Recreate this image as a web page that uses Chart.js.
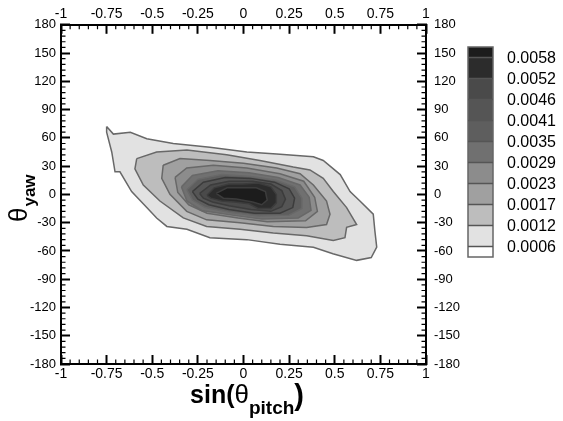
<!DOCTYPE html>
<html>
<head>
<meta charset="utf-8">
<script src="https://cdn.jsdelivr.net/npm/chart.js@4.4.1/dist/chart.umd.min.js"></script>
<style>
    body { margin: 0; background: #fff; }
</style>
</head>
<body>
<canvas id="contourChart" width="563" height="421"></canvas>
<script>
// Kontur seviyeleri (legend, alttan üste)
const levels = ['0.0006', '0.0012', '0.0017', '0.0023', '0.0029', '0.0035', '0.0041', '0.0046', '0.0052', '0.0058'];
// Bant renkleri: en alt seviyenin altı ... en üst seviyenin üstü
const bandColors = ['#ffffff', '#e2e2e2', '#bdbdbd', '#a0a0a0', '#8c8c8c', '#707070', '#5e5e5e', '#555555', '#4a4a4a', '#2c2c2c', '#1c1c1c'];

// Eksen değerleri
const xTicks = [-1, -0.75, -0.5, -0.25, 0, 0.25, 0.5, 0.75, 1];
const yTicks = [-180, -150, -120, -90, -60, -30, 0, 30, 60, 90, 120, 150, 180];
const xMinorStep = 0.05;
const yMinorStep = 6;

// Kontur çizgileri [sin(pitch), yaw]
const ring0006 = [[-0.75, 72], [-0.713, 64], [-0.62, 66], [-0.53, 59], [-0.385, 54], [-0.184, 50], [0.018, 45], [0.182, 43], [0.383, 40], [0.437, 36], [0.53, 21], [0.584, 3], [0.638, -7], [0.711, -21], [0.72, -39], [0.73, -56], [0.70, -67], [0.62, -70], [0.49, -63], [0.383, -56], [0.2, -53], [0.018, -48], [-0.184, -46], [-0.31, -37], [-0.42, -34], [-0.476, -25], [-0.53, -14], [-0.613, 3], [-0.677, 24], [-0.704, 24], [-0.722, 45], [-0.75, 66]];
const ring0012 = [[-0.585, 38], [-0.476, 45], [-0.31, 47], [-0.092, 42], [0.09, 36], [0.273, 29], [0.364, 26], [0.437, 17], [0.492, 3], [0.565, -14], [0.62, -32], [0.565, -35], [0.556, -46], [0.492, -49], [0.346, -44], [0.163, -41], [-0.019, -37], [-0.202, -34], [-0.33, -25], [-0.458, -7], [-0.549, 10], [-0.595, 27]];
const ring0017 = [[-0.44, 31], [-0.348, 38], [-0.184, 36], [0.0, 33], [0.182, 28], [0.31, 22], [0.383, 10], [0.455, -7], [0.474, -21], [0.455, -32], [0.346, -35], [0.163, -34], [-0.019, -30], [-0.202, -27], [-0.311, -18], [-0.403, 0], [-0.448, 17]];
const ring0023 = [[-0.375, 18], [-0.311, 28], [-0.165, 31], [0.018, 28], [0.2, 22], [0.33, 14], [0.39, -3], [0.405, -18], [0.34, -28], [0.13, -29], [-0.03, -25], [-0.2, -20], [-0.3, -11], [-0.36, 2]];
const ring0029 = [[-0.34, 8], [-0.28, 20], [-0.14, 25], [0.03, 23], [0.19, 18], [0.31, 10], [0.36, -3], [0.37, -17], [0.3, -25], [0.1, -26], [-0.06, -22], [-0.23, -17], [-0.31, -7]];
const ring0035 = [[-0.31, 5], [-0.25, 16], [-0.12, 21], [0.04, 19], [0.18, 15], [0.28, 8], [0.32, -4], [0.32, -15], [0.25, -22], [0.08, -23], [-0.08, -19], [-0.21, -14], [-0.28, -6]];
const ring0041 = [[-0.28, 3], [-0.22, 13], [-0.1, 18], [0.04, 17], [0.17, 13], [0.25, 6], [0.28, -4], [0.27, -14], [0.2, -20], [0.06, -20], [-0.08, -16], [-0.19, -11], [-0.25, -5]];
const ring0046 = [[-0.24, 1], [-0.18, 10], [-0.08, 14], [0.05, 14], [0.15, 11], [0.21, 4], [0.23, -5], [0.21, -13], [0.15, -18], [0.04, -16], [-0.08, -12], [-0.17, -8], [-0.22, -4]];
const ring0052 = [[-0.2, -1], [-0.16, 7], [-0.08, 11], [0.0, 11], [0.08, 12], [0.15, 8], [0.18, 0], [0.18, -9], [0.15, -15], [0.08, -15], [0.03, -10], [-0.05, -8], [-0.12, -7], [-0.18, -4]];
const ring0058 = [[-0.15, 1], [-0.09, 7], [0.0, 7], [0.07, 7], [0.12, 3], [0.13, -6], [0.1, -11], [0.05, -8], [-0.04, -5], [-0.11, -4]];

const rings = [ring0006, ring0012, ring0017, ring0023, ring0029, ring0035, ring0041, ring0046, ring0052, ring0058];

const FONT = '"Liberation Sans", Arial, Helvetica, sans-serif';

function buildDatasets() {
    return rings.map((ring, i) => {
        const pts = ring.map(p => ({ x: p[0], y: p[1] }));
        pts.push({ x: ring[0][0], y: ring[0][1] });
        return {
            data: pts,
            showLine: true,
            fill: 'shape',
            backgroundColor: bandColors[i + 1],
            borderColor: i >= 6 ? '#3c3c3c' : '#686868',
            borderWidth: 1.5,
            pointRadius: 0,
            tension: 0,
            order: rings.length - i
        };
    });
}

// Ara (minor) tikler, içe doğru
const minorTicks = {
    id: 'minorTicks',
    afterDraw(chart) {
        const ctx = chart.ctx;
        const area = chart.chartArea;
        const xs = chart.scales.x;
        const ys = chart.scales.y;
        ctx.save();
        ctx.strokeStyle = '#000000';
        ctx.lineWidth = 1.2;
        ctx.beginPath();
        for (let i = 0; i <= 40; i++) {
            if (i % 5 === 0) continue;
            const px = xs.getPixelForValue(-1 + i * xMinorStep);
            ctx.moveTo(px, area.bottom);
            ctx.lineTo(px, area.bottom - 4.5);
            ctx.moveTo(px, area.top);
            ctx.lineTo(px, area.top + 4.5);
        }
        for (let i = 0; i <= 60; i++) {
            if (i % 5 === 0) continue;
            const py = ys.getPixelForValue(-180 + i * yMinorStep);
            ctx.moveTo(area.left, py);
            ctx.lineTo(area.left + 4.5, py);
            ctx.moveTo(area.right, py);
            ctx.lineTo(area.right - 4.5, py);
        }
        ctx.stroke();
        ctx.restore();
    }
};

// Eksen başlıkları (alt indisli)
const axisTitles = {
    id: 'axisTitles',
    afterDraw(chart) {
        const ctx = chart.ctx;
        ctx.save();
        ctx.fillStyle = '#000';
        ctx.textBaseline = 'alphabetic';
        ctx.textAlign = 'left';
        const parts = [
            { t: 'sin(', f: 'bold 25px ' + FONT, dy: 0 },
            { t: 'θ', f: '26px ' + FONT, dy: 0 },
            { t: 'pitch', f: 'bold 19px ' + FONT, dy: 11 },
            { t: ')', f: 'bold 29px ' + FONT, dy: 2 }
        ];
        let total = 0;
        parts.forEach(p => { ctx.font = p.f; p.w = ctx.measureText(p.t).width; total += p.w; });
        let x = 247 - total / 2;
        parts.forEach(p => { ctx.font = p.f; ctx.fillText(p.t, x, 403 + p.dy); x += p.w; });

        ctx.translate(27, 222);
        ctx.rotate(-Math.PI / 2);
        ctx.font = '26px ' + FONT;
        ctx.fillText('θ', 0, 0);
        const tw = ctx.measureText('θ').width;
        ctx.font = 'bold 17px ' + FONT;
        ctx.fillText('yaw', tw + 1, 8);
        ctx.restore();
    }
};

// Renk skalası (etiketler bant sınırlarında)
const colorBar = {
    id: 'colorBar',
    afterDraw(chart) {
        const ctx = chart.ctx;
        const bx = 468, bw = 25, barTop = 47, barBottom = 257;
        const step = (barBottom - barTop) / levels.length;
        ctx.save();
        for (let b = 0; b < bandColors.length; b++) {
            let y1 = barBottom - step / 2 - (b - 1) * step;
            let y0 = y1 - step;
            if (b === 0) { y1 = barBottom; y0 = barBottom - step / 2; }
            if (b === bandColors.length - 1) { y0 = barTop; }
            ctx.fillStyle = bandColors[b];
            ctx.fillRect(bx, y0, bw, y1 - y0);
        }
        ctx.strokeStyle = '#666';
        ctx.lineWidth = 1.5;
        ctx.strokeRect(bx, barTop, bw, barBottom - barTop);
        ctx.font = '16px ' + FONT;
        ctx.textAlign = 'left';
        ctx.textBaseline = 'middle';
        for (let k = 0; k < levels.length; k++) {
            const y = barBottom - step / 2 - k * step;
            ctx.strokeStyle = '#555';
            ctx.beginPath();
            ctx.moveTo(bx, y);
            ctx.lineTo(bx + bw, y);
            ctx.stroke();
            ctx.fillStyle = '#000';
            ctx.fillText(levels[k], 507, y + 1);
        }
        ctx.restore();
    }
};

function fmt(v) {
    return String(Math.round(v * 100) / 100);
}

const xTickFont = { family: FONT, size: 14 };
const yTickFont = { family: FONT, size: 13 };
// Ana tikler: negatif tickLength ile içe doğru
const majorGrid = { display: true, drawOnChartArea: false, drawTicks: true, tickLength: -9, tickWidth: 2, tickColor: '#000' };
const axisBorder = { display: true, color: '#000', width: 2 };

new Chart(document.getElementById('contourChart'), {
    type: 'scatter',
    data: { datasets: buildDatasets() },
    options: {
        responsive: false,
        animation: false,
        layout: { padding: 0 },
        plugins: { legend: { display: false }, tooltip: { enabled: false } },
        scales: {
            x: {
                type: 'linear', position: 'bottom', min: -1, max: 1,
                afterBuildTicks: s => { s.ticks = xTicks.map(v => ({ value: v })); },
                afterFit: s => { s.height = 57; },
                ticks: { font: xTickFont, color: '#000', padding: 11, maxRotation: 0, autoSkip: false, callback: fmt },
                grid: majorGrid, border: axisBorder
            },
            x2: {
                type: 'linear', axis: 'x', position: 'top', min: -1, max: 1,
                afterBuildTicks: s => { s.ticks = xTicks.map(v => ({ value: v })); },
                afterFit: s => { s.height = 22; },
                ticks: { font: xTickFont, color: '#000', padding: 11, maxRotation: 0, autoSkip: false, callback: fmt },
                grid: majorGrid, border: axisBorder
            },
            y: {
                type: 'linear', position: 'left', min: -180, max: 180,
                afterBuildTicks: s => { s.ticks = yTicks.map(v => ({ value: v })); },
                afterFit: s => { s.width = 61; },
                ticks: { font: yTickFont, color: '#000', padding: 14, autoSkip: false },
                grid: majorGrid, border: axisBorder
            },
            y2: {
                type: 'linear', axis: 'y', position: 'right', min: -180, max: 180,
                afterBuildTicks: s => { s.ticks = yTicks.map(v => ({ value: v })); },
                afterFit: s => { s.width = 137; },
                ticks: { font: yTickFont, color: '#000', padding: 17, autoSkip: false },
                grid: majorGrid, border: axisBorder
            }
        }
    },
    plugins: [minorTicks, axisTitles, colorBar]
});
</script>
</body>
</html>
